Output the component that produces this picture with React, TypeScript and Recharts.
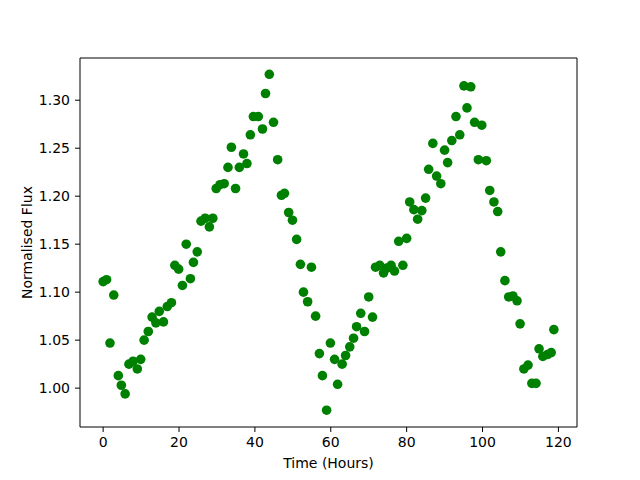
import React from 'react';
import {
  ScatterChart,
  Scatter,
  XAxis,
  YAxis,
  ReferenceArea,
} from 'recharts';

// time of each sample, hours
const timeHours: number[] = [
  0.0, 0.9, 1.8, 2.8, 4.0, 4.8, 5.8, 6.8, 7.9, 9.0,
  9.9, 10.8, 11.9, 12.9, 13.9, 14.8, 15.9, 16.9, 18.0, 18.9,
  19.9, 20.9, 21.9, 23.0, 23.8, 24.8, 25.8, 26.9, 28.0, 28.9,
  29.8, 30.8, 31.9, 32.9, 33.8, 34.9, 35.9, 37.0, 37.9, 38.8,
  39.6, 40.9, 42.0, 42.8, 43.8, 44.9, 46.0, 47.0, 47.8, 48.9,
  49.9, 51.0, 52.0, 52.8, 53.9, 54.9, 56.0, 57.0, 57.8, 58.9,
  59.9, 61.0, 61.8, 63.0, 63.9, 65.0, 66.0, 66.8, 67.9, 68.9,
  70.0, 71.0, 71.8, 72.9, 73.9, 74.8, 75.9, 76.8, 77.9, 79.0,
  80.0, 80.8, 81.9, 82.9, 84.0, 85.0, 85.8, 86.9, 87.9, 89.0,
  90.0, 90.8, 91.9, 93.0, 94.0, 95.1, 95.9, 96.9, 97.9, 98.9,
  99.8, 101.0, 101.9, 103.0, 104.0, 104.8, 105.9, 106.9, 108.0, 109.1,
  109.9, 110.9, 112.0, 113.0, 114.1, 114.9, 115.9, 117.1, 118.1, 118.8,
];

// normalised flux per sample
const flux: number[] = [
  1.111, 1.113, 1.047, 1.097, 1.013, 1.003, 0.994, 1.025, 1.028, 1.020,
  1.030, 1.050, 1.059, 1.074, 1.068, 1.080, 1.069, 1.085, 1.089, 1.128,
  1.124, 1.107, 1.150, 1.114, 1.131, 1.142, 1.174, 1.177, 1.168, 1.177,
  1.208, 1.212, 1.213, 1.230, 1.251, 1.208, 1.230, 1.244, 1.234, 1.264,
  1.283, 1.283, 1.270, 1.307, 1.327, 1.277, 1.238, 1.201, 1.203, 1.183,
  1.175, 1.155, 1.129, 1.100, 1.090, 1.126, 1.075, 1.036, 1.013, 0.977,
  1.047, 1.030, 1.004, 1.025, 1.034, 1.043, 1.052, 1.064, 1.078, 1.059,
  1.095, 1.074, 1.126, 1.128, 1.120, 1.125, 1.128, 1.122, 1.153, 1.128,
  1.156, 1.194, 1.186, 1.176, 1.185, 1.198, 1.228, 1.255, 1.221, 1.213,
  1.248, 1.235, 1.258, 1.283, 1.264, 1.315, 1.292, 1.314, 1.277, 1.238,
  1.274, 1.237, 1.206, 1.194, 1.184, 1.142, 1.112, 1.095, 1.096, 1.091,
  1.067, 1.020, 1.024, 1.005, 1.005, 1.041, 1.033, 1.035, 1.037, 1.061,
];

const xTicks = [0, 20, 40, 60, 80, 100, 120];
const yTicks = [1.0, 1.05, 1.1, 1.15, 1.2, 1.25, 1.3];

const X_DOMAIN: [number, number] = [-6.1, 124.9];
const Y_DOMAIN: [number, number] = [0.9595, 1.344];

const FONT = 'DejaVu Sans, sans-serif';
const tickStyle = { fontSize: 14, fill: '#000', fontFamily: FONT };

const data = timeHours.map((t, i) => ({ t, f: flux[i] }));

const Dot = (props: any) => (
  <circle cx={props.cx} cy={props.cy} r={4.8} fill="#008000" />
);

export default function App() {
  return (
    <div style={{ position: 'absolute', left: 0, top: 0, background: '#fff' }}>
      <ScatterChart
        width={640}
        height={480}
        margin={{ top: 58, right: 63, bottom: 23, left: 20 }}
      >
        <XAxis
          type="number"
          dataKey="t"
          domain={X_DOMAIN}
          ticks={xTicks}
          allowDataOverflow
          height={30}
          tickSize={5}
          tickMargin={5}
          tick={tickStyle}
          axisLine={false}
          tickLine={{ stroke: '#000' }}
          label={{
            content: ({ viewBox }: any) => (
              <text
                x={viewBox.x + viewBox.width / 2}
                y={468}
                textAnchor="middle"
                fontSize={14}
                fontFamily={FONT}
                fill="#000"
              >
                Time (Hours)
              </text>
            ),
          }}
        />
        <YAxis
          type="number"
          dataKey="f"
          domain={Y_DOMAIN}
          ticks={yTicks}
          allowDataOverflow
          width={60}
          tickSize={5}
          tickMargin={5}
          tick={tickStyle}
          tickFormatter={(v: number) => v.toFixed(2)}
          axisLine={false}
          tickLine={{ stroke: '#000' }}
          label={{
            content: ({ viewBox }: any) => {
              const cy = viewBox.y + viewBox.height / 2;
              return (
                <text
                  x={32}
                  y={cy}
                  transform={`rotate(-90 32 ${cy})`}
                  textAnchor="middle"
                  fontSize={14}
                  fontFamily={FONT}
                  fill="#000"
                >
                  Normalised Flux
                </text>
              );
            },
          }}
        />
        <Scatter data={data} fill="#008000" shape={Dot} isAnimationActive={false} />
        <ReferenceArea
          x1={X_DOMAIN[0]}
          x2={X_DOMAIN[1]}
          y1={Y_DOMAIN[0]}
          y2={Y_DOMAIN[1]}
          fill="none"
          stroke="#000"
          strokeWidth={1}
          ifOverflow="visible"
        />
      </ScatterChart>
    </div>
  );
}
